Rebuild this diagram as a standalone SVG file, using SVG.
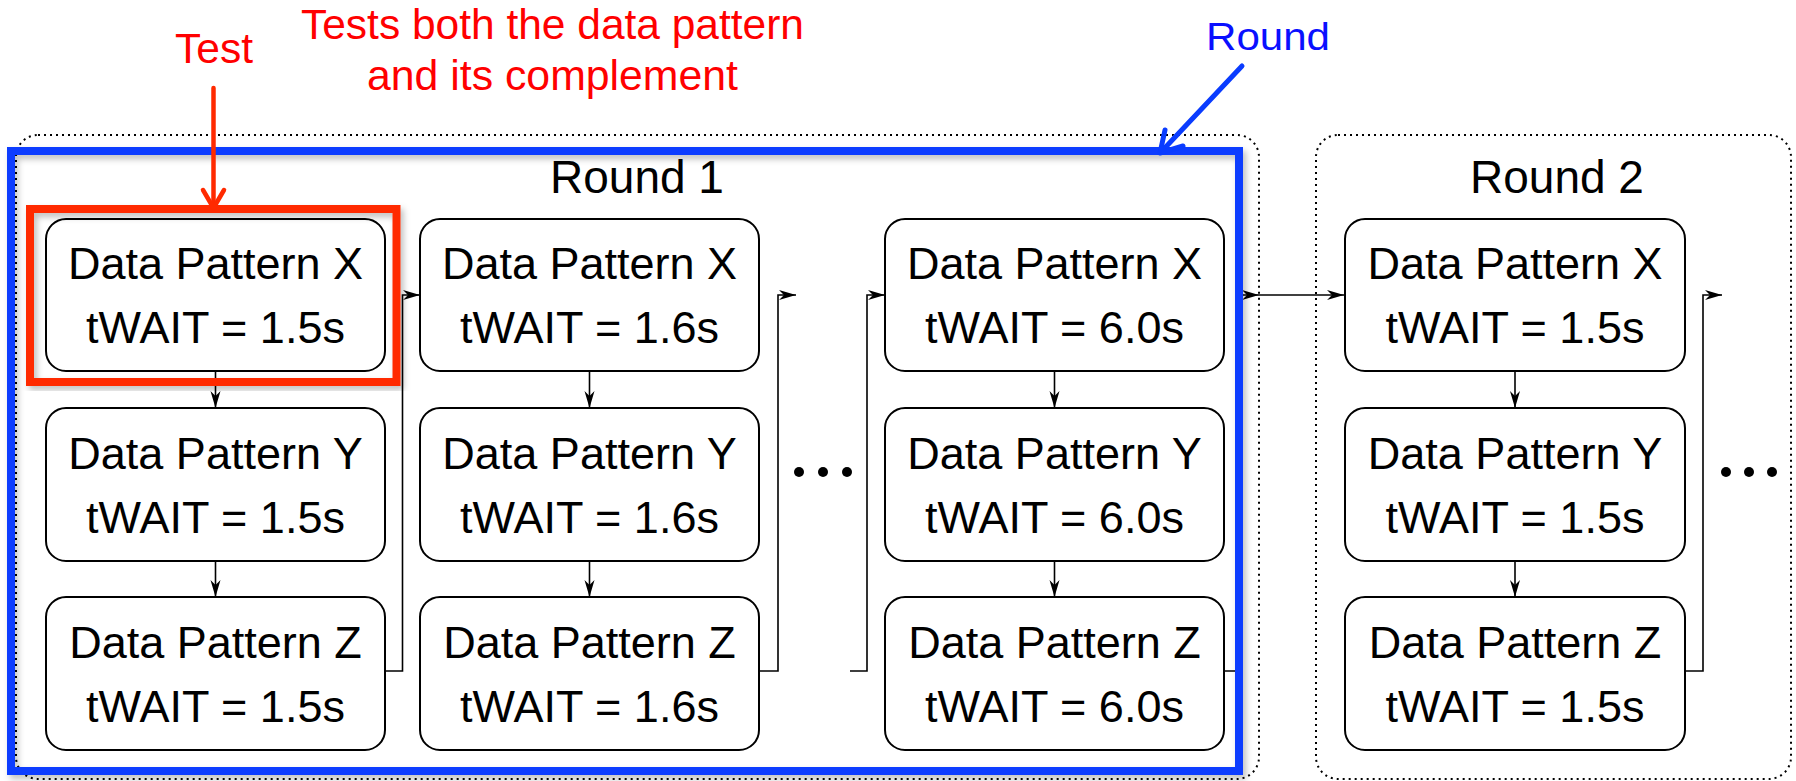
<svg xmlns="http://www.w3.org/2000/svg" width="1796" height="781" viewBox="0 0 1796 781">
<style>
.box{fill:#fff;stroke:#000;stroke-width:2}
.t{font-family:"Liberation Sans",Arial,sans-serif;font-size:45px;fill:#000;text-anchor:middle}
.rl{font-family:"Liberation Sans",Arial,sans-serif;font-size:46px;fill:#000;text-anchor:middle}
.con{fill:none;stroke:#000;stroke-width:1.6}
.dot{fill:none;stroke:#000;stroke-width:2;stroke-dasharray:2 4}
.red{font-family:"Liberation Sans",Arial,sans-serif;font-size:42px;fill:#ff0000}
.blue{font-family:"Liberation Sans",Arial,sans-serif;font-size:39px;fill:#0a10ff}
</style>
<defs>
<marker id="ah" markerUnits="userSpaceOnUse" markerWidth="18" markerHeight="12" refX="17" refY="6" orient="auto">
<path d="M0,1 L17,6 L0,11 L5,6 Z" fill="#000"/>
</marker>
<filter id="sh" x="-5%" y="-5%" width="110%" height="110%">
<feDropShadow dx="3" dy="4" stdDeviation="3" flood-color="#000" flood-opacity="0.25"/>
</filter>
</defs>
<rect width="1796" height="781" fill="#fff"/>

<g id="round1-frame"><rect class="dot" x="16" y="135" width="1243" height="644" rx="22"/></g>
<g id="round2-frame"><rect class="dot" x="1316" y="135" width="475" height="644" rx="22"/></g>

<g id="round1-label"><text class="rl" x="637" y="193">Round 1</text></g>
<g id="round2-label"><text class="rl" x="1557" y="193">Round 2</text></g>

<g id="connectors">
<line class="con" x1="215.5" y1="372" x2="215.5" y2="408" marker-end="url(#ah)"/>
<line class="con" x1="215.5" y1="561" x2="215.5" y2="597" marker-end="url(#ah)"/>
<line class="con" x1="589.5" y1="372" x2="589.5" y2="408" marker-end="url(#ah)"/>
<line class="con" x1="589.5" y1="561" x2="589.5" y2="597" marker-end="url(#ah)"/>
<line class="con" x1="1054.5" y1="372" x2="1054.5" y2="408" marker-end="url(#ah)"/>
<line class="con" x1="1054.5" y1="561" x2="1054.5" y2="597" marker-end="url(#ah)"/>
<line class="con" x1="1515" y1="372" x2="1515" y2="408" marker-end="url(#ah)"/>
<line class="con" x1="1515" y1="561" x2="1515" y2="597" marker-end="url(#ah)"/>
<path class="con" d="M385,671 H402.5 V295 H420" marker-end="url(#ah)"/>
<path class="con" d="M759,671 H778 V295 H796" marker-end="url(#ah)"/>
<path class="con" d="M850,671 H867 V295 H885" marker-end="url(#ah)"/>
<path class="con" d="M1224,671 H1238 V295 H1259" marker-end="url(#ah)"/>
<line class="con" x1="1259" y1="295" x2="1344" y2="295" marker-end="url(#ah)"/>
<path class="con" d="M1685,671 H1703 V295 H1722" marker-end="url(#ah)"/>
</g>

<g id="c1x"><rect class="box" x="46" y="219" width="339" height="152" rx="20"/><text class="t" x="215.5" y="279">Data Pattern X</text><text class="t" x="215.5" y="343">tWAIT = 1.5s</text></g>
<g id="c1y"><rect class="box" x="46" y="408" width="339" height="153" rx="20"/><text class="t" x="215.5" y="469">Data Pattern Y</text><text class="t" x="215.5" y="533">tWAIT = 1.5s</text></g>
<g id="c1z"><rect class="box" x="46" y="597" width="339" height="153" rx="20"/><text class="t" x="215.5" y="658">Data Pattern Z</text><text class="t" x="215.5" y="722">tWAIT = 1.5s</text></g>

<g id="c2x"><rect class="box" x="420" y="219" width="339" height="152" rx="20"/><text class="t" x="589.5" y="279">Data Pattern X</text><text class="t" x="589.5" y="343">tWAIT = 1.6s</text></g>
<g id="c2y"><rect class="box" x="420" y="408" width="339" height="153" rx="20"/><text class="t" x="589.5" y="469">Data Pattern Y</text><text class="t" x="589.5" y="533">tWAIT = 1.6s</text></g>
<g id="c2z"><rect class="box" x="420" y="597" width="339" height="153" rx="20"/><text class="t" x="589.5" y="658">Data Pattern Z</text><text class="t" x="589.5" y="722">tWAIT = 1.6s</text></g>

<g id="c3x"><rect class="box" x="885" y="219" width="339" height="152" rx="20"/><text class="t" x="1054.5" y="279">Data Pattern X</text><text class="t" x="1054.5" y="343">tWAIT = 6.0s</text></g>
<g id="c3y"><rect class="box" x="885" y="408" width="339" height="153" rx="20"/><text class="t" x="1054.5" y="469">Data Pattern Y</text><text class="t" x="1054.5" y="533">tWAIT = 6.0s</text></g>
<g id="c3z"><rect class="box" x="885" y="597" width="339" height="153" rx="20"/><text class="t" x="1054.5" y="658">Data Pattern Z</text><text class="t" x="1054.5" y="722">tWAIT = 6.0s</text></g>

<g id="c4x"><rect class="box" x="1345" y="219" width="340" height="152" rx="20"/><text class="t" x="1515" y="279">Data Pattern X</text><text class="t" x="1515" y="343">tWAIT = 1.5s</text></g>
<g id="c4y"><rect class="box" x="1345" y="408" width="340" height="153" rx="20"/><text class="t" x="1515" y="469">Data Pattern Y</text><text class="t" x="1515" y="533">tWAIT = 1.5s</text></g>
<g id="c4z"><rect class="box" x="1345" y="597" width="340" height="153" rx="20"/><text class="t" x="1515" y="658">Data Pattern Z</text><text class="t" x="1515" y="722">tWAIT = 1.5s</text></g>

<g id="ellipsis1" fill="#000"><circle cx="799" cy="472" r="5"/><circle cx="823" cy="472" r="5"/><circle cx="847" cy="472" r="5"/></g>
<g id="ellipsis2" fill="#000"><circle cx="1726" cy="472" r="5"/><circle cx="1749" cy="472" r="5"/><circle cx="1772" cy="472" r="5"/></g>

<g id="round-highlight"><rect x="11" y="151" width="1228" height="620" fill="none" stroke="#0a3cff" stroke-width="8" filter="url(#sh)"/></g>
<g id="test-highlight"><rect x="30" y="209" width="366.5" height="173" fill="none" stroke="#ff2a00" stroke-width="8" filter="url(#sh)"/></g>

<g id="test-callout">
<text class="red" x="214" y="63" text-anchor="middle" textLength="78" lengthAdjust="spacingAndGlyphs">Test</text>
<g fill="none" stroke="#ff2a00" stroke-width="4.5" stroke-linecap="round" stroke-linejoin="round">
<line x1="213.5" y1="88" x2="213.5" y2="208"/>
<polyline points="203,190 213.5,208 224,190"/>
</g>
</g>
<g id="complement-note">
<text class="red" x="301" y="39" textLength="503" lengthAdjust="spacingAndGlyphs">Tests both the data pattern</text>
<text class="red" x="367" y="90" textLength="371" lengthAdjust="spacingAndGlyphs">and its complement</text>
</g>
<g id="round-callout">
<text class="blue" x="1206" y="50" textLength="124" lengthAdjust="spacingAndGlyphs">Round</text>
<g fill="none" stroke="#0a3cff" stroke-width="5" stroke-linecap="round" stroke-linejoin="round">
<line x1="1242" y1="66" x2="1161" y2="152"/>
<polyline points="1165,130 1160,153 1183,146"/>
</g>
</g>
</svg>
